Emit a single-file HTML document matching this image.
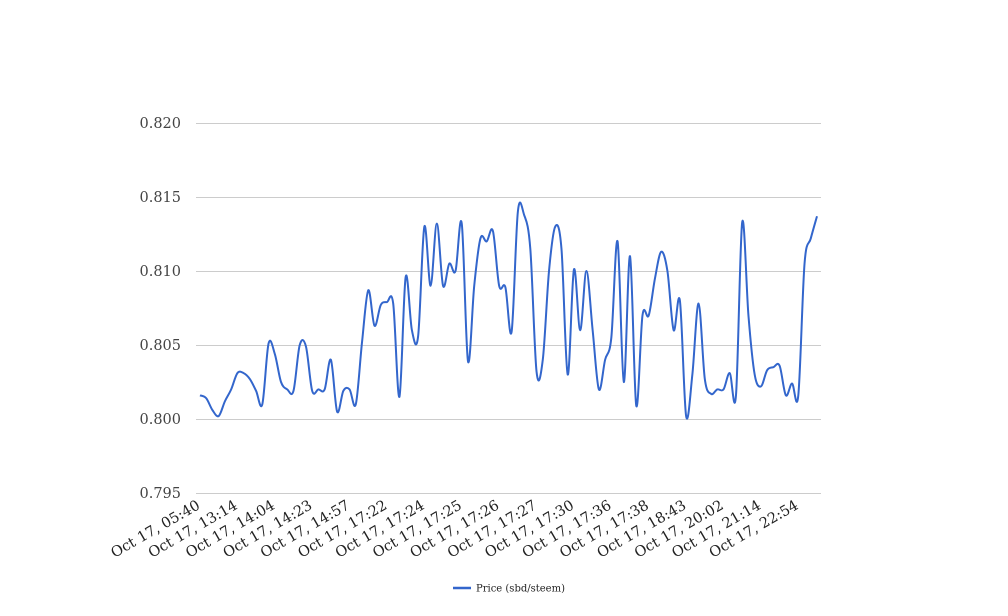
<!DOCTYPE html>
<html><head><meta charset="utf-8"><style>
html,body{margin:0;padding:0;background:#fff;width:1008px;height:616px;overflow:hidden}
svg text{font-family:"DejaVu Serif","Liberation Serif",serif}
</style></head><body>
<svg id="chart" width="1008" height="616" xmlns="http://www.w3.org/2000/svg">
<g id="grid"></g>
<g id="ylab"></g>
<g id="xlab"></g>
<g id="series"></g>
<g>
<line x1="453" y1="588" x2="471" y2="588" stroke="#3366cc" stroke-width="2.5"/>
<text x="476" y="591.5" font-size="10" fill="#222">Price (sbd/steem)</text>
</g>
</svg>
<script>
const values=[0.8016,0.8014,0.8006,0.8002,0.8012,0.8020,0.8031,0.8031,0.8027,0.8019,
0.8010,0.8051,0.8044,0.8025,0.8020,0.8019,0.8050,0.8049,0.8019,0.8020,
0.8020,0.8040,0.8005,0.8019,0.8020,0.8010,0.8052,0.8087,0.8063,0.8077,
0.8079,0.8078,0.8015,0.8096,0.8060,0.8056,0.8130,0.8090,0.8132,0.8090,
0.8105,0.8100,0.8132,0.8039,0.8090,0.8122,0.8120,0.8127,0.8090,0.8089,
0.8059,0.8140,0.8138,0.8115,0.8032,0.8040,0.8100,0.8130,0.8115,0.8030,
0.8101,0.8060,0.8100,0.8060,0.8020,0.8040,0.8055,0.8120,0.8025,0.8110,
0.8009,0.8070,0.8070,0.8095,0.8113,0.8100,0.8060,0.8080,0.8002,0.8030,
0.8078,0.8027,0.8017,0.8020,0.8020,0.8031,0.8016,0.8133,0.8070,0.8030,
0.8022,0.8033,0.8035,0.8036,0.8016,0.8024,0.8016,0.8105,0.8122,0.8137];
const xLabels=["Oct 17, 05:40","Oct 17, 13:14","Oct 17, 14:04","Oct 17, 14:23","Oct 17, 14:57","Oct 17, 17:22","Oct 17, 17:24","Oct 17, 17:25","Oct 17, 17:26","Oct 17, 17:27","Oct 17, 17:30","Oct 17, 17:36","Oct 17, 17:38","Oct 17, 18:43","Oct 17, 20:02","Oct 17, 21:14","Oct 17, 22:54"];
const labelEvery=6;
const yTicks=[0.795,0.800,0.805,0.810,0.815,0.820];
const yMin=0.795,yMax=0.820;
const NS="http://www.w3.org/2000/svg";
function xs(i){return 200+i*(617/(values.length-1));}
function ys(v){return 493-(v-yMin)/(yMax-yMin)*370;}
const grid=document.getElementById('grid'),ylab=document.getElementById('ylab'),xlab=document.getElementById('xlab'),series=document.getElementById('series');
yTicks.forEach(t=>{
 const l=document.createElementNS(NS,'line');
 
 
 l.setAttribute('x1',196);l.setAttribute('x2',821);
 l.setAttribute('y1',ys(t)+0.5);l.setAttribute('y2',ys(t)+0.5);
 l.setAttribute('stroke','#cccccc');l.setAttribute('stroke-width',1);
 grid.appendChild(l);
 const tx=document.createElementNS(NS,'text');
 
 
 tx.setAttribute('x',181);tx.setAttribute('y',ys(t)+5);
 tx.setAttribute('text-anchor','end');tx.setAttribute('font-size','14.5');tx.setAttribute('fill','#444');
 tx.textContent=t.toFixed(3);
 ylab.appendChild(tx);
});
xLabels.forEach((s,k)=>{
 const x=xs(k*labelEvery);
 const tx=document.createElementNS(NS,'text');
 
 
 tx.setAttribute('transform','translate('+(x+1)+',508) rotate(-30)');
 tx.setAttribute('text-anchor','end');tx.setAttribute('font-size','14.5');tx.setAttribute('fill','#222');
 tx.textContent=s;
 xlab.appendChild(tx);
});
const P=values.map((v,i)=>[xs(i),ys(v)]);
let d='M'+P[0][0].toFixed(2)+','+P[0][1].toFixed(2);
for(let i=0;i<P.length-1;i++){
 const p0=P[Math.max(0,i-1)],p1=P[i],p2=P[i+1],p3=P[Math.min(P.length-1,i+2)];
 const t=0.5/3*2;
 const c1=[p1[0]+(p2[0]-p0[0])*t/2,p1[1]+(p2[1]-p0[1])*t/2];
 const c2=[p2[0]-(p3[0]-p1[0])*t/2,p2[1]-(p3[1]-p1[1])*t/2];
 d+=' C'+c1[0].toFixed(2)+','+c1[1].toFixed(2)+' '+c2[0].toFixed(2)+','+c2[1].toFixed(2)+' '+p2[0].toFixed(2)+','+p2[1].toFixed(2);
}
const path=document.createElementNS(NS,'path');


path.setAttribute('d',d);path.setAttribute('fill','none');
path.setAttribute('stroke','#3366cc');path.setAttribute('stroke-width','2');path.setAttribute('stroke-linejoin','round');
series.appendChild(path);
</script>
</body></html>
